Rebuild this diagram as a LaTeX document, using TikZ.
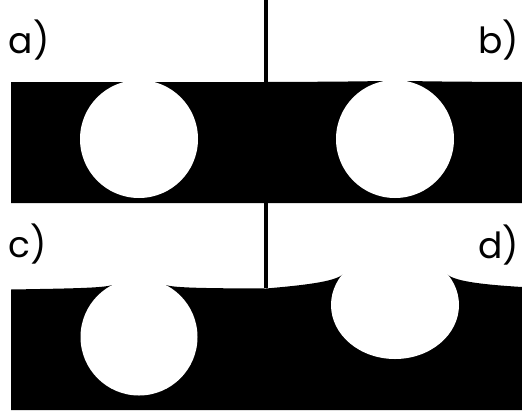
\documentclass[tikz,border=0pt]{standalone}
\usepackage{fontspec}
\newfontfamily\panelfont{Poppins}
\usetikzlibrary{positioning}

\begin{document}
\begin{tikzpicture}[x=1pt, y=-1pt,
  band/.style={fill=black, draw=none},
  hole/.style={fill=white, draw=none},
  divider/.style={line width=3.5pt, color=black},
  plbl/.style={font=\panelfont\fontsize{36}{40}\selectfont, inner sep=0pt}]
  \useasboundingbox (0,0) rectangle (522,410);
  % top: a) and b)
  \fill[band] (11,82) -- (266,82) .. controls (320,81.8) and (360,81.5) .. (380,81)
    -- (410,81) .. controls (430,81.5) and (470,81.8) .. (522,82)
    -- (522,203) -- (11,203) -- cycle;
  \fill[hole] (139,139) circle[radius=59];
  \fill[hole] (395,139) circle[radius=59];
  % bottom: c) and d)
  \fill[band] (11,410) -- (11,289.5)
    .. controls (70,288.5) and (104,288) .. (112,285)
    -- (139,300) -- (166,285)
    .. controls (174,288) and (210,288.3) .. (266,288.5)
    .. controls (300,285.5) and (336,282) .. (343,274)
    -- (395,300) -- (447,274)
    .. controls (454,282) and (490,285) .. (522,287)
    -- (522,410) -- cycle;
  \fill[hole] (139,337) circle[radius=58.5];
  \fill[hole] (395,305) ellipse[x radius=64, y radius=54];
  % divider
  \coordinate (dtop) at (266,0);
  \coordinate (dbot) at (266,288);
  \draw[divider] (dtop) -- (dbot);
  % labels
  \node[plbl, anchor=base west] (la) at (8.5,53) {a)};
  \node[plbl, anchor=base east] (lb) at (519,53) {b)};
  \node[plbl, anchor=base west] (lc) at (8.5,257) {c)};
  \node[plbl, anchor=base east] (ld) at (519,258) {d)};
\end{tikzpicture}
\end{document}
